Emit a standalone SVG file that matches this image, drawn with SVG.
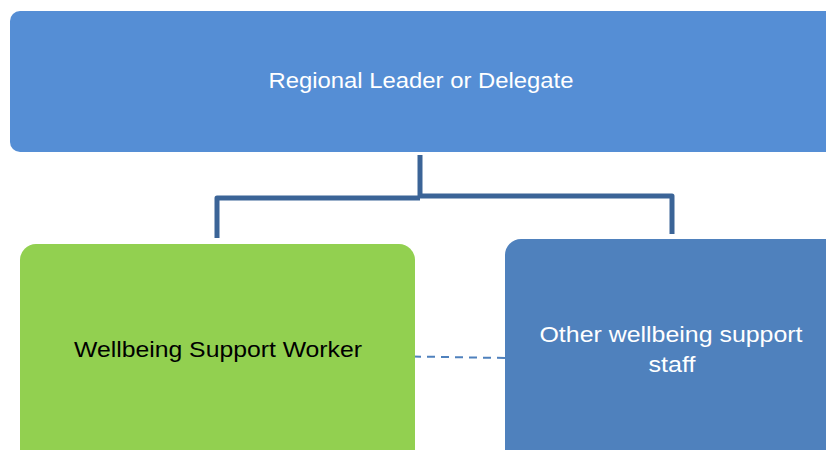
<svg xmlns="http://www.w3.org/2000/svg" width="826" height="450" viewBox="0 0 826 450">
  <style>
    .label { font-family: "Liberation Sans", Arial, sans-serif; font-size: 22px; text-anchor: middle; }
    .light { fill: #ffffff; }
    .dark { fill: #000000; }
    .tree { fill: none; stroke: #3B6497; stroke-width: 5; stroke-linejoin: round; }
    .peer { fill: none; stroke: #4F81BD; stroke-width: 2; stroke-dasharray: 8 6; }
  </style>
  <rect width="826" height="450" fill="#ffffff"/>

  <g id="connectors">
    <polyline class="tree" points="420,155 420,197"/>
    <polyline class="tree" points="217,238 217,198 420,198"/>
    <polyline class="tree" points="420,196 672,196 672,234"/>
    <line class="peer" x1="413" y1="356.5" x2="506" y2="358"/>
  </g>

  <g id="regional-leader">
    <rect x="10" y="11" width="830" height="141" rx="10" fill="#558ED5"/>
    <text class="label light" x="421" y="88" textLength="305" lengthAdjust="spacingAndGlyphs">Regional Leader or Delegate</text>
  </g>

  <g id="wellbeing-support-worker">
    <rect x="20" y="244" width="395" height="230" rx="16" fill="#92D050"/>
    <text class="label dark" x="218" y="357" textLength="288" lengthAdjust="spacingAndGlyphs">Wellbeing Support Worker</text>
  </g>

  <g id="other-support-staff">
    <rect x="505" y="239" width="340" height="240" rx="16" fill="#4F81BD"/>
    <text class="label light" x="671" y="342" textLength="263" lengthAdjust="spacingAndGlyphs">Other wellbeing support</text>
    <text class="label light" x="672" y="372" textLength="47" lengthAdjust="spacingAndGlyphs">staff</text>
  </g>
</svg>
